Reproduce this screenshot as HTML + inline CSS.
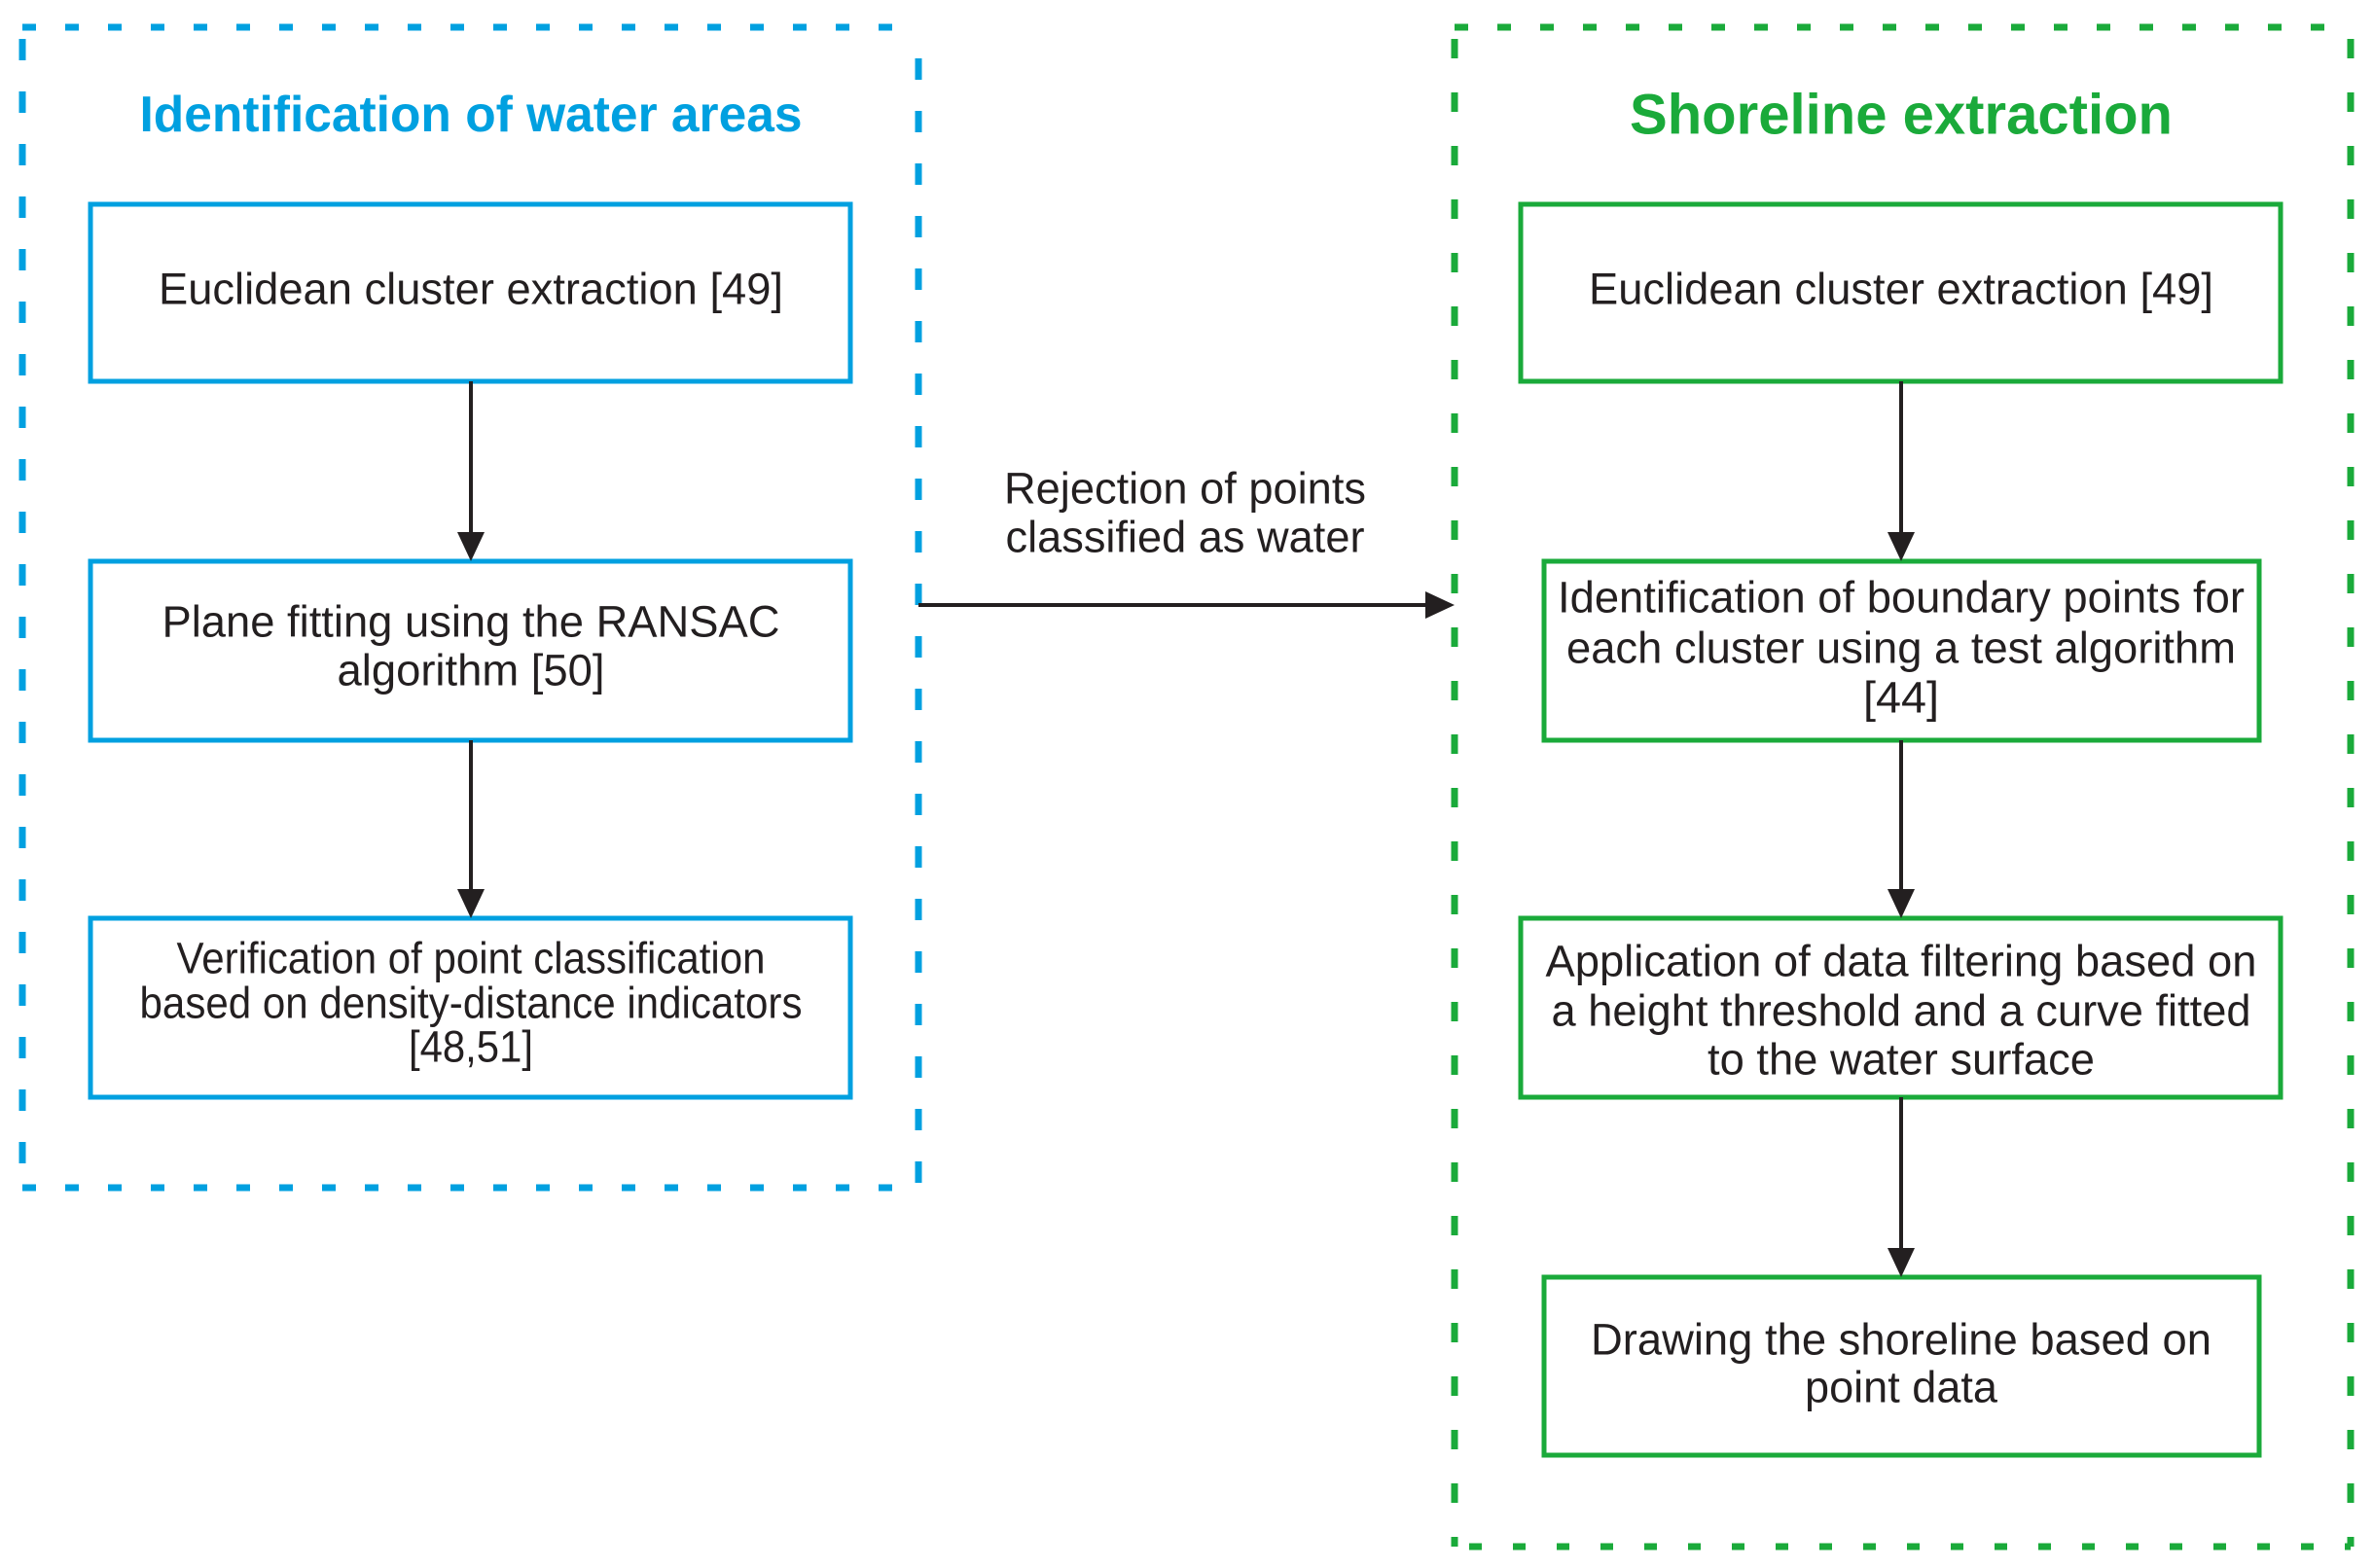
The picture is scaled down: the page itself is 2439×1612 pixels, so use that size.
<!DOCTYPE html>
<html><head><meta charset="utf-8"><style>
html,body{margin:0;padding:0;background:#fff;}
svg{display:block;}
text{font-family:"Liberation Sans",Arial,sans-serif;fill:#231f20;}
</style></head><body>
<svg width="2439" height="1612" viewBox="0 0 2439 1612" xmlns="http://www.w3.org/2000/svg">
<g stroke="#00a0e0" stroke-width="7" fill="none">
<line x1="23" y1="28" x2="944" y2="28" stroke-dasharray="14 30"/>
<line x1="23" y1="1221" x2="944" y2="1221" stroke-dasharray="14 30"/>
<line x1="23" y1="40" x2="23" y2="1221" stroke-dasharray="22 32"/>
<line x1="944" y1="60" x2="944" y2="1221" stroke-dasharray="22 32"/>
</g>
<g stroke="#1aaa3a" stroke-width="7" fill="none">
<line x1="1495" y1="28" x2="2416" y2="28" stroke-dasharray="14 30"/>
<line x1="1510" y1="1590" x2="2416" y2="1590" stroke-dasharray="13 32"/>
<line x1="1495" y1="40" x2="1495" y2="1590" stroke-dasharray="20 35"/>
<line x1="2416" y1="40" x2="2416" y2="1590" stroke-dasharray="20 35"/>
</g>
<text x="484" y="118" font-size="52" font-weight="bold" text-anchor="middle" dominant-baseline="central" style="fill:#00a0e0" textLength="681" lengthAdjust="spacingAndGlyphs">Identification of water areas</text>
<text x="1954" y="118" font-size="58" font-weight="bold" text-anchor="middle" dominant-baseline="central" style="fill:#1aaa3a" textLength="558" lengthAdjust="spacingAndGlyphs">Shoreline extraction</text>
<g fill="none" stroke="#00a0e0" stroke-width="5">
<rect x="93" y="210" width="781" height="182"/>
<rect x="93" y="577" width="781" height="184"/>
<rect x="93" y="944" width="781" height="184"/>
</g>
<g fill="none" stroke="#1aaa3a" stroke-width="5">
<rect x="1563" y="210" width="781" height="182"/>
<rect x="1587" y="577" width="735" height="184"/>
<rect x="1563" y="944" width="781" height="184"/>
<rect x="1587" y="1313" width="735" height="183"/>
</g>
<g stroke="#231f20" stroke-width="4">
<line x1="484" y1="392" x2="484" y2="550"/>
<line x1="484" y1="761" x2="484" y2="917"/>
<line x1="1954" y1="392" x2="1954" y2="550"/>
<line x1="1954" y1="761" x2="1954" y2="917"/>
<line x1="1954" y1="1128" x2="1954" y2="1286"/>
<line x1="944" y1="622" x2="1468" y2="622"/>
</g>
<g fill="#231f20">
<polygon points="470,547 498,547 484,577"/>
<polygon points="470,914 498,914 484,944"/>
<polygon points="1940,547 1968,547 1954,577"/>
<polygon points="1940,914 1968,914 1954,944"/>
<polygon points="1940,1283 1968,1283 1954,1313"/>
<polygon points="1465,608 1465,636 1495,622"/>
</g>
<g font-size="45" text-anchor="middle" dominant-baseline="central">
<text x="484" y="297" textLength="642" lengthAdjust="spacingAndGlyphs">Euclidean cluster extraction [49]</text>
<text x="484" y="639" textLength="635" lengthAdjust="spacingAndGlyphs">Plane fitting using the RANSAC</text>
<text x="484" y="689" textLength="275" lengthAdjust="spacingAndGlyphs">algorithm [50]</text>
<text x="484" y="985" textLength="605" lengthAdjust="spacingAndGlyphs">Verification of point classification</text>
<text x="484" y="1031" textLength="681" lengthAdjust="spacingAndGlyphs">based on density-distance indicators</text>
<text x="484" y="1076" textLength="128" lengthAdjust="spacingAndGlyphs">[48,51]</text>
<text x="1218" y="502" textLength="372" lengthAdjust="spacingAndGlyphs">Rejection of points</text>
<text x="1218" y="552" textLength="369" lengthAdjust="spacingAndGlyphs">classified as water</text>
<text x="1954" y="297" textLength="642" lengthAdjust="spacingAndGlyphs">Euclidean cluster extraction [49]</text>
<text x="1954" y="614" textLength="706" lengthAdjust="spacingAndGlyphs">Identification of boundary points for</text>
<text x="1954" y="666" textLength="688" lengthAdjust="spacingAndGlyphs">each cluster using a test algorithm</text>
<text x="1954" y="717" textLength="78" lengthAdjust="spacingAndGlyphs">[44]</text>
<text x="1954" y="988" textLength="731" lengthAdjust="spacingAndGlyphs">Application of data filtering based on</text>
<text x="1954" y="1039" textLength="719" lengthAdjust="spacingAndGlyphs">a height threshold and a curve fitted</text>
<text x="1954" y="1089" textLength="398" lengthAdjust="spacingAndGlyphs">to the water surface</text>
<text x="1954" y="1377" textLength="638" lengthAdjust="spacingAndGlyphs">Drawing the shoreline based on</text>
<text x="1954" y="1426" textLength="198" lengthAdjust="spacingAndGlyphs">point data</text>
</g>
</svg>
</body></html>
